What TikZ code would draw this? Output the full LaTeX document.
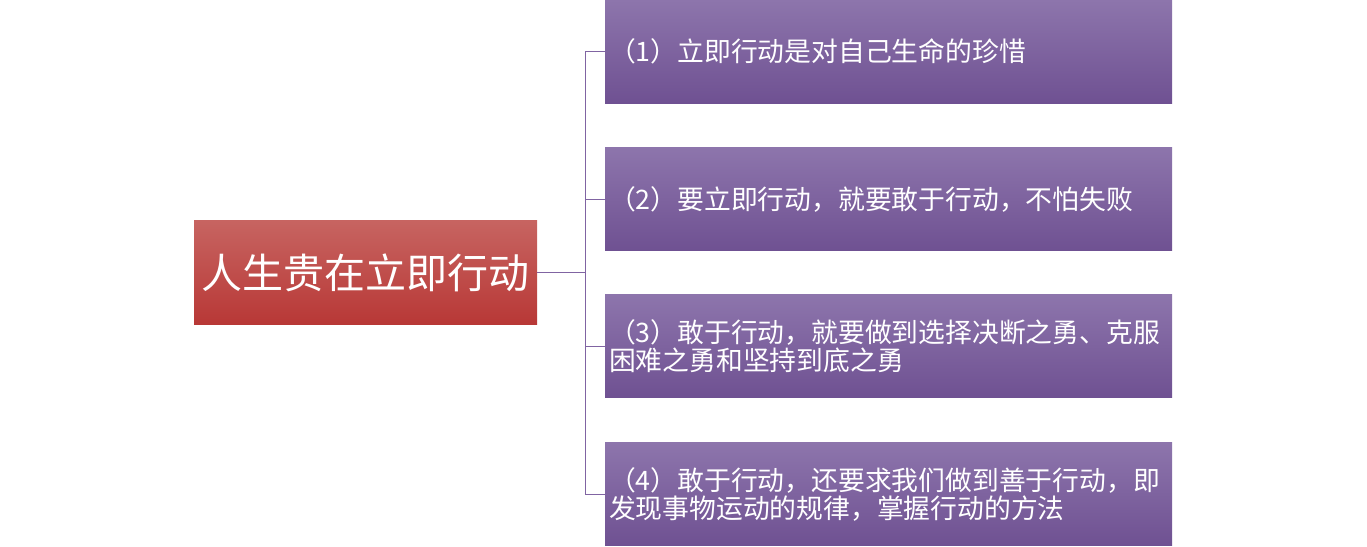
\documentclass[tikz,border=0pt]{standalone}
\usepackage{fontspec}
\setmainfont{Noto Sans CJK SC}
\newfontfamily\cjk{Noto Sans CJK SC}
\definecolor{redtop}{RGB}{199,100,97}
\definecolor{redbot}{RGB}{184,56,54}
\definecolor{purtop}{RGB}{141,117,172}
\definecolor{purbot}{RGB}{111,81,146}
\definecolor{connc}{RGB}{128,100,162}
\begin{document}
\begin{tikzpicture}[x=1pt,y=-1pt,
  rootbox/.style={rectangle, top color=redtop, bottom color=redbot, draw=none,
    minimum width=343pt, minimum height=104pt, inner sep=0pt, text=white,
    font=\cjk\fontsize{41}{46}\selectfont},
  itembox/.style={rectangle, top color=purtop, bottom color=purbot, draw=none,
    minimum width=567pt, minimum height=103pt, text width=559pt, inner xsep=4pt,
    inner ysep=0pt, align=left, text=white,
    font=\cjk\fontsize{26.8}{28}\selectfont},
  conn/.style={draw=connc, line width=0.9pt}]
\useasboundingbox (0,0) rectangle (1367,546);
\node[rootbox] (root) at (365.5,272.5) {人生贵在立即行动};
\node[itembox] (b1) at (888.5,51.5) {（1）立即行动是对自己生命的珍惜};
\node[itembox] (b2) at (888.5,199) {（2）要立即行动，就要敢于行动，不怕失败};
\node[itembox] (b3) at (888.5,346) {（3）敢于行动，就要做到选择决断之勇、克服\\困难之勇和坚持到底之勇};
\node[itembox] (b4) at (888.5,494) {（4）敢于行动，还要求我们做到善于行动，即\\发现事物运动的规律，掌握行动的方法};
\coordinate (j) at (585,272.5);
\draw[conn] (root.east) -- (j);
\draw[conn] (j) |- (b1.west);
\draw[conn] (j) |- (b2.west);
\draw[conn] (j) |- (b3.west);
\draw[conn] (j) |- (b4.west);
\end{tikzpicture}
\end{document}
